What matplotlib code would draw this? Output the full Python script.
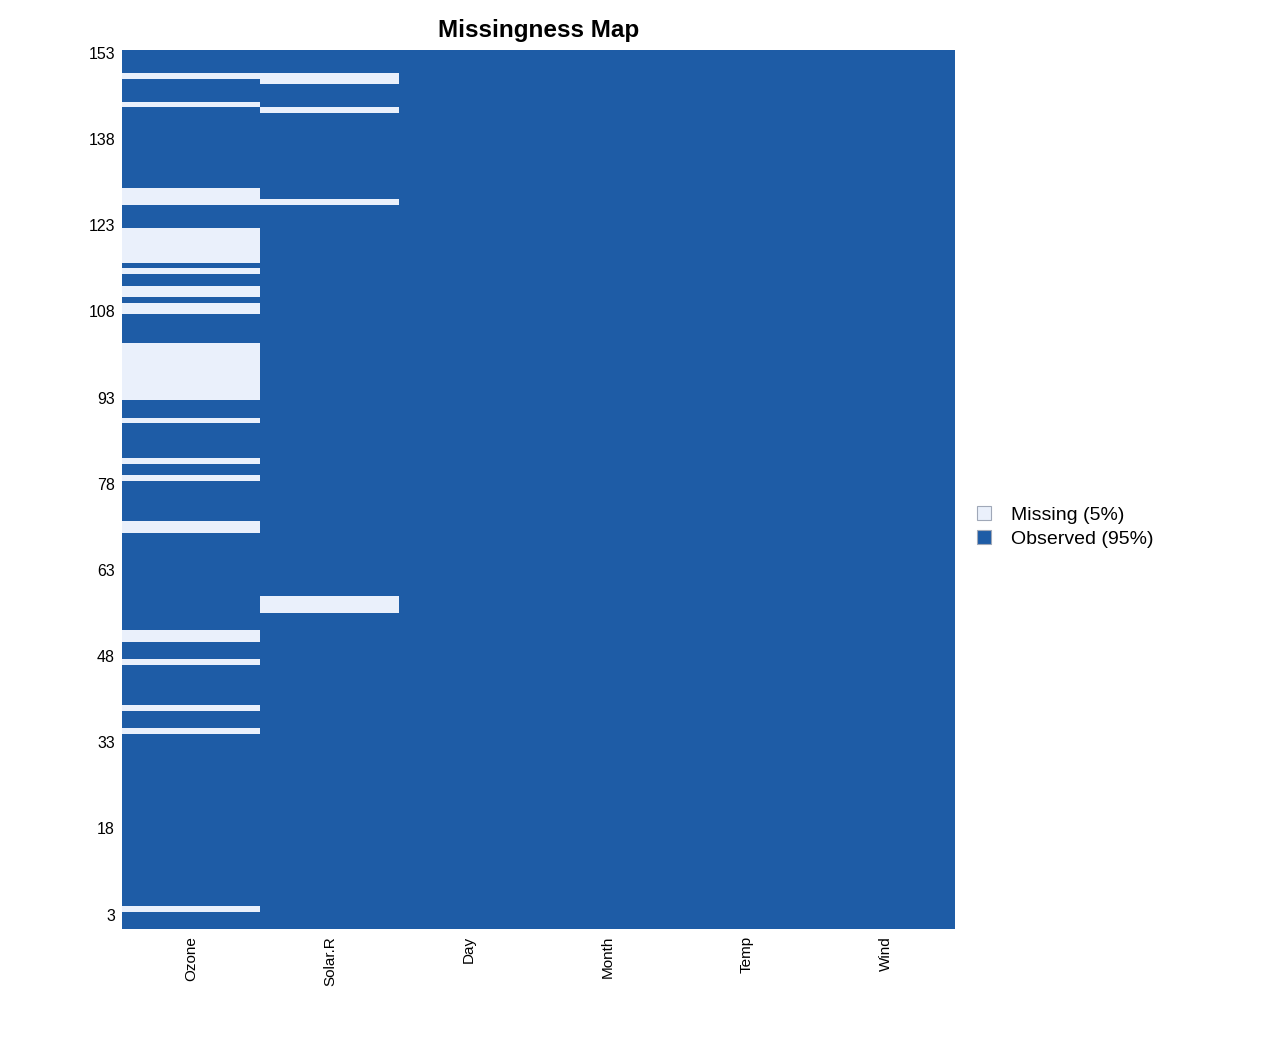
import matplotlib
matplotlib.use("Agg")
import matplotlib.pyplot as plt
import numpy as np
from matplotlib.colors import ListedColormap
from matplotlib.patches import Patch

plt.rcParams['font.family'] = ['Liberation Sans', 'DejaVu Sans']

# airquality data: 153 rows, columns in plotted order
columns = ["Ozone", "Solar.R", "Day", "Month", "Temp", "Wind"]
n_rows = 153
missing_rows = {
    "Ozone": [5, 10, 25, 26, 27, 32, 33, 34, 35, 36, 37, 39, 42, 43, 45, 46,
              52, 53, 54, 55, 56, 57, 58, 59, 60, 61, 65, 72, 75, 83, 84,
              102, 103, 107, 115, 119, 150],
    "Solar.R": [5, 6, 11, 27, 96, 97, 98],
    "Day": [],
    "Month": [],
    "Temp": [],
    "Wind": [],
}
ytick_rows = [1, 16, 31, 46, 61, 76, 91, 106, 121, 136, 151]
ytick_labels = ["153", "138", "123", "108", "93", "78", "63", "48", "33", "18", "3"]

missing_color = "#eaf0fb"
observed_color = "#1e5ca6"

# 1 = observed, 0 = missing
grid = np.ones((n_rows, len(columns)))
for j, col in enumerate(columns):
    for r in missing_rows[col]:
        grid[r - 1, j] = 0

n_miss = int((grid == 0).sum())
pct_miss = round(100 * n_miss / grid.size)
pct_obs = 100 - pct_miss

fig = plt.figure(figsize=(12.77, 10.52), dpi=100)
ax = fig.add_axes([122 / 1277, 1 - 929 / 1052, (955 - 122) / 1277, (929 - 50) / 1052])

cmap = ListedColormap([missing_color, observed_color])
ax.imshow(grid, cmap=cmap, vmin=0, vmax=1, aspect="auto", interpolation="nearest",
          extent=[0, len(columns), n_rows + 0.5, 0.5])

ax.set_xlim(0, len(columns))
ax.set_ylim(n_rows + 0.5, 0.5)
ax.set_xticks(np.arange(len(columns)) + 0.5)
ax.set_xticklabels(columns, rotation=90, fontsize=11)
ax.set_yticks(ytick_rows)
ax.set_yticklabels(ytick_labels, fontsize=11.5)
ax.tick_params(length=0, pad=5)
for s in ax.spines.values():
    s.set_visible(False)

ax.set_title("Missingness Map", fontsize=17.5, fontweight="bold", pad=9)

handles = [
    Patch(facecolor=missing_color, edgecolor="#a0a8b8", linewidth=0.8,
          label=f"Missing ({pct_miss}%)"),
    Patch(facecolor=observed_color, edgecolor="#a0a8b8", linewidth=0.8,
          label=f"Observed ({pct_obs}%)"),
]
fig.legend(handles=handles, loc="center left", bbox_to_anchor=(967 / 1277, 1 - 527 / 1052),
           frameon=False, fontsize=14, handlelength=0.75, handleheight=0.75,
           handletextpad=1.0, labelspacing=0.3, borderpad=0)

fig.savefig("out.png", dpi=100)
